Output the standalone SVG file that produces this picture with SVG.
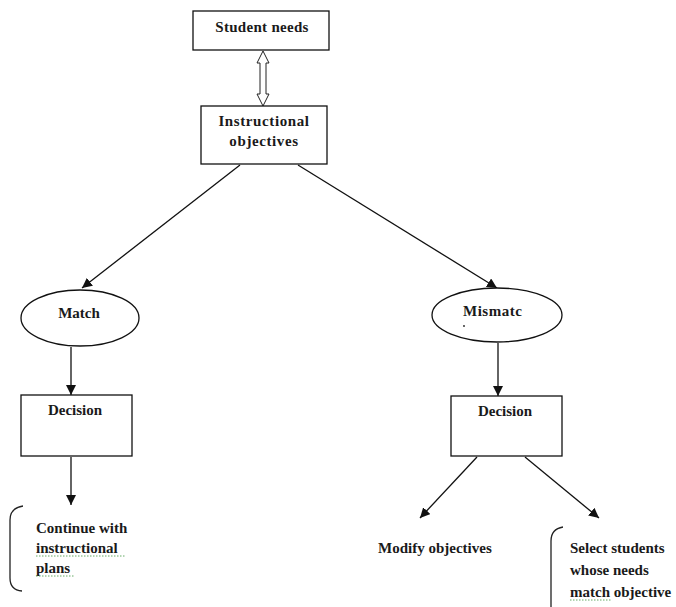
<svg xmlns="http://www.w3.org/2000/svg" width="676" height="607" viewBox="0 0 676 607">
<style>
.box{fill:#fff;stroke:#111;stroke-width:1.3}
.t{font-family:"Liberation Serif",serif;font-weight:bold;font-size:15px;fill:#1a1a1a}
.c{text-anchor:middle}
.ln{stroke:#111;stroke-width:1.3;fill:none}
.br{stroke:#222;stroke-width:1.3;fill:none}
.sq{stroke:#6a6;stroke-width:1;fill:none;stroke-dasharray:1.5 1.5}
</style>
<defs>
<marker id="ah" viewBox="0 0 10 10" refX="10" refY="5" markerWidth="10" markerHeight="10" markerUnits="userSpaceOnUse" orient="auto">
<path d="M0,0 L10,5 L0,10 Z" fill="#111"/>
</marker>
</defs>
<rect width="676" height="607" fill="#fff"/>
<g id="connectors">
<polygon points="263,51 269,63 266,63 266,94 269,94 263,106 257,94 260,94 260,63 257,63" fill="#fff" stroke="#222" stroke-width="1"/>
<line class="ln" x1="240" y1="165" x2="82" y2="288" marker-end="url(#ah)"/>
<line class="ln" x1="298" y1="165" x2="497" y2="288" marker-end="url(#ah)"/>
<line class="ln" x1="71" y1="347" x2="71" y2="395" marker-end="url(#ah)"/>
<line class="ln" x1="498" y1="343" x2="498" y2="396" marker-end="url(#ah)"/>
<line class="ln" x1="71" y1="457" x2="71" y2="505" marker-end="url(#ah)"/>
<line class="ln" x1="477" y1="457" x2="420" y2="518" marker-end="url(#ah)"/>
<line class="ln" x1="525" y1="457" x2="599" y2="518" marker-end="url(#ah)"/>
</g>
<g id="student-needs">
<rect class="box" x="193" y="11" width="136" height="39"/>
<text class="t c" x="262" y="32" letter-spacing="0.3">Student needs</text>
</g>
<g id="instructional-objectives">
<rect class="box" x="201" y="106" width="126" height="58"/>
<text class="t c" x="264" y="126" letter-spacing="0.6">Instructional</text>
<text class="t c" x="264" y="146" letter-spacing="0.6">objectives</text>
</g>
<g id="match">
<ellipse class="box" cx="80" cy="318" rx="59" ry="28"/>
<text class="t c" x="79" y="318">Match</text>
</g>
<g id="decision-left">
<rect class="box" x="21" y="395" width="111" height="61"/>
<text class="t c" x="75" y="415">Decision</text>
</g>
<g id="mismatch">
<ellipse class="box" cx="497" cy="315" rx="65" ry="27"/>
<text class="t" x="463" y="316" letter-spacing="0.5">Mismatc</text>
<circle cx="464" cy="326" r="0.9" fill="#222"/>
</g>
<g id="decision-right">
<rect class="box" x="451" y="396" width="111" height="60"/>
<text class="t c" x="505" y="416">Decision</text>
</g>
<g id="continue">
<path class="br" d="M23,506 Q10,508 10,520 L10,578 Q10,590 22,591"/>
<text class="t" x="36" y="533">Continue with</text>
<text class="t" x="36" y="553">instructional</text>
<text class="t" x="36" y="573">plans</text>
<path class="sq" d="M36,556 L126,556 M36,576 L74,576"/>
</g>
<g id="modify">
<text class="t" x="378" y="553">Modify objectives</text>
</g>
<g id="select">
<path class="br" d="M563,527 Q551,529 551,541 L551,607"/>
<text class="t" x="570" y="553">Select students</text>
<text class="t" x="570" y="575">whose needs</text>
<text class="t" x="570" y="597">match objective</text>
<path class="sq" d="M570,600 L612,600"/>
</g>
</svg>
